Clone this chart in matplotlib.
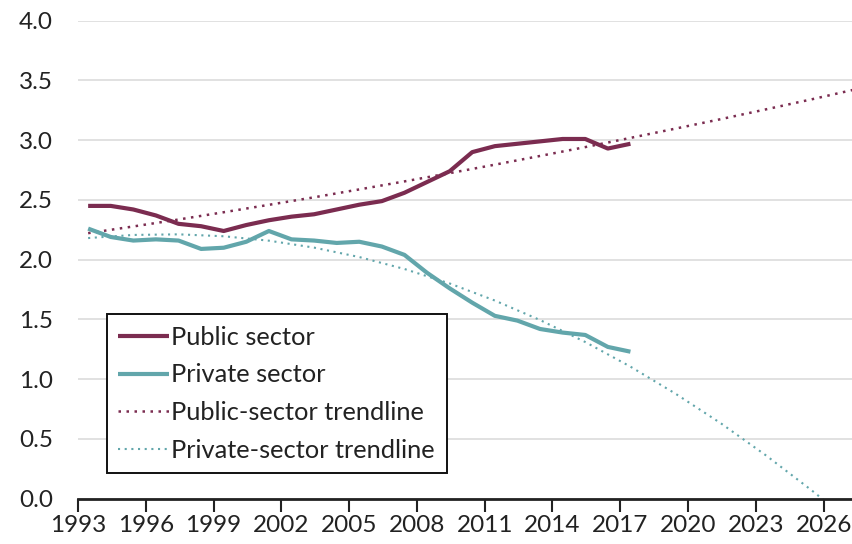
import numpy as np
import matplotlib
matplotlib.use('Agg')
import matplotlib.pyplot as plt

# yearly values (plotted at the middle of each year slot)
years = [1993, 1994, 1995, 1996, 1997, 1998, 1999, 2000, 2001, 2002, 2003, 2004, 2005,
         2006, 2007, 2008, 2009, 2010, 2011, 2012, 2013, 2014, 2015, 2016, 2017]
public = [2.45, 2.45, 2.42, 2.37, 2.30, 2.28, 2.24, 2.29, 2.33, 2.36, 2.38, 2.42, 2.46,
          2.49, 2.56, 2.65, 2.74, 2.90, 2.95, 2.97, 2.99, 3.01, 3.01, 2.93, 2.97]
private = [2.26, 2.19, 2.16, 2.17, 2.16, 2.09, 2.10, 2.15, 2.24, 2.17, 2.16, 2.14, 2.15,
           2.11, 2.04, 1.89, 1.76, 1.64, 1.53, 1.49, 1.42, 1.39, 1.37, 1.27, 1.23]

# trendlines
pub_trend_years = [1993, 1995, 1997, 1999, 2001, 2003, 2005, 2007, 2009, 2011, 2013,
                   2015, 2017, 2019, 2021, 2023, 2025, 2027]
pub_trend = [2.222, 2.278, 2.336, 2.397, 2.459, 2.522, 2.588, 2.655, 2.724, 2.795, 2.868,
             2.942, 3.019, 3.097, 3.176, 3.258, 3.341, 3.427]
priv_trend_years = [1993, 1995, 1997, 1999, 2001, 2003, 2005, 2007, 2009, 2011, 2013,
                    2015, 2017, 2019, 2021, 2023, 2025, 2026]
priv_trend = [2.181, 2.207, 2.212, 2.196, 2.159, 2.101, 2.022, 1.922, 1.801, 1.658, 1.495,
              1.311, 1.105, 0.878, 0.631, 0.362, 0.073, -0.08]

xticks = list(range(1993, 2027, 3))
yticks = [0.0, 0.5, 1.0, 1.5, 2.0, 2.5, 3.0, 3.5, 4.0]

maroon = '#7b2c50'
teal = '#62a6ab'

plt.rcParams['font.family'] = ['Lato', 'DejaVu Sans']

fig = plt.figure(figsize=(8.53, 5.44), dpi=100)
ax = fig.add_axes([0.0914, 0.0833, 0.9086, 0.8787])

off = 0.45
x = np.array(years) + off
ax.plot(x, public, color=maroon, lw=3.0, solid_capstyle='butt', label='Public sector', zorder=4)
ax.plot(x, private, color=teal, lw=3.0, solid_capstyle='butt', label='Private sector', zorder=4)
ax.plot(np.array(pub_trend_years) + off, pub_trend, color=maroon, lw=1.8,
        linestyle=(0, (1, 2.2)), label='Public-sector trendline', zorder=3)
ax.plot(np.array(priv_trend_years) + off, priv_trend, color=teal, lw=1.5,
        linestyle=(0, (1, 2.2)), label='Private-sector trendline', zorder=3)

ax.set_xlim(1993, 2027.3)
ax.set_ylim(0, 4.0)
ax.set_xticks(xticks)
ax.set_yticks(yticks)
ax.set_yticklabels(['%.1f' % v for v in yticks])
ax.tick_params(axis='x', direction='out', length=9, width=1.5, pad=3, labelsize=17.5, colors='#222222')
ax.tick_params(axis='y', length=0, pad=18, labelsize=17.5, colors='#222222')

for s in ['top', 'right', 'left']:
    ax.spines[s].set_visible(False)
ax.spines['bottom'].set_linewidth(2)
ax.spines['bottom'].set_color('#222222')
ax.spines['bottom'].set_zorder(5)

ax.grid(axis='y', color='#dcdcdc', lw=1.2)
ax.set_axisbelow(True)

leg = ax.legend(loc='lower left', bbox_to_anchor=(0.037, 0.053), borderaxespad=0,
                fontsize=18.3, handlelength=2.0, handletextpad=0.1, labelspacing=0.58,
                borderpad=0.45, fancybox=False, framealpha=1)
leg.get_frame().set_edgecolor('#111111')
leg.get_frame().set_linewidth(1.4)
for t in leg.get_texts():
    t.set_color('#222222')

fig.savefig('out.png', dpi=100)
